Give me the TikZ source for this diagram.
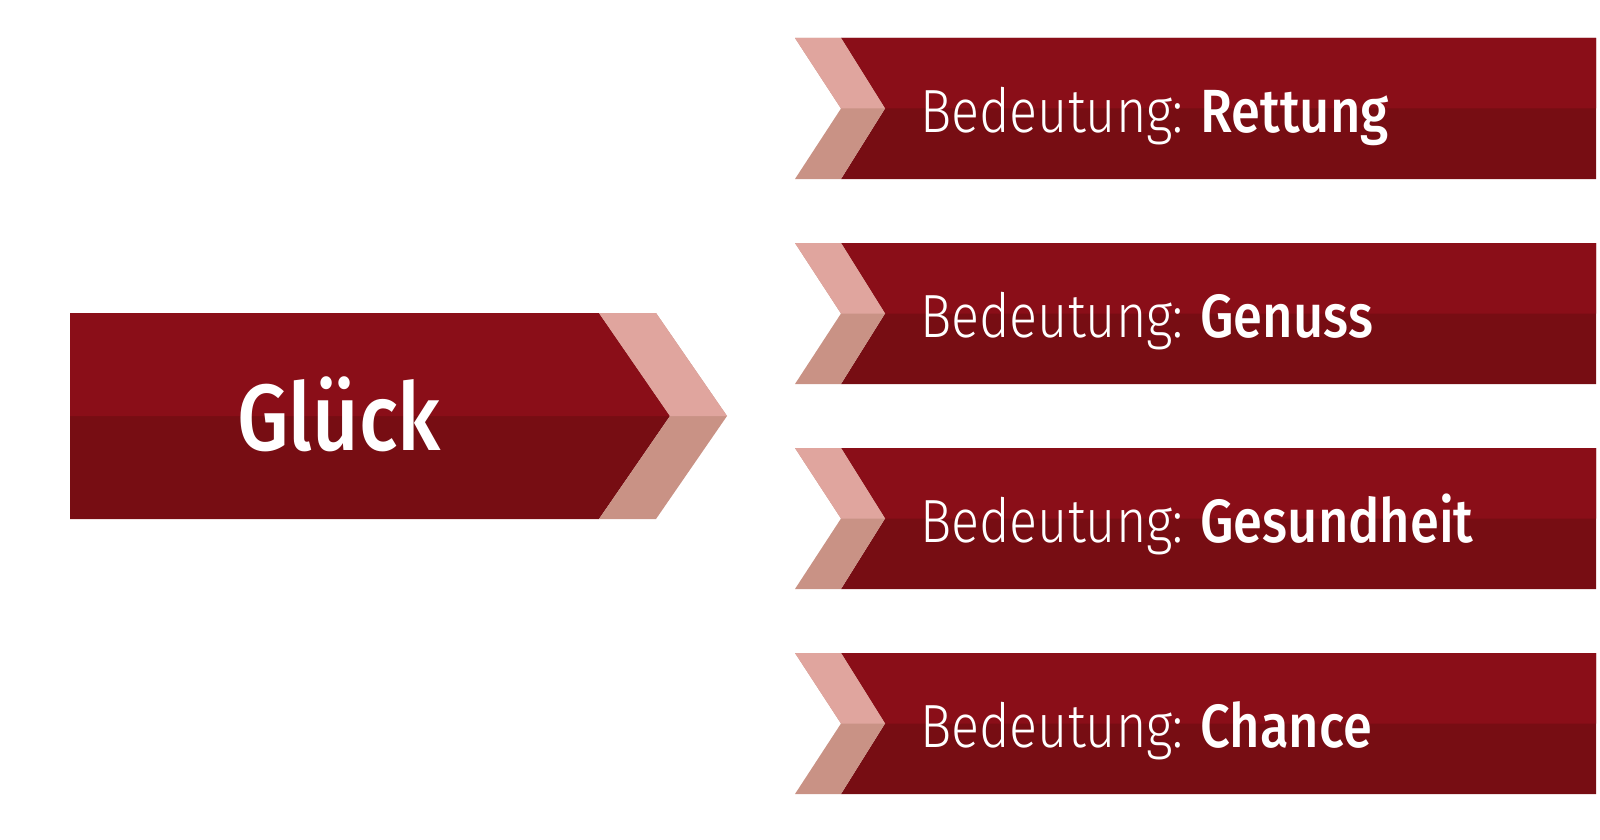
\documentclass[tikz,border=0pt]{standalone}
\usepackage{fontspec}
\newfontfamily\lightf[FakeStretch=0.855]{Fira Sans Light}
\newfontfamily\boldf[FakeStretch=0.86]{Fira Sans Medium}
\definecolor{redU}{HTML}{8A0E18}
\definecolor{redL}{HTML}{770D13}
\definecolor{pinkU}{HTML}{E0A59E}
\definecolor{pinkL}{HTML}{C99285}
\tikzset{
  bantext/.style={anchor=base west, inner sep=0pt, text=white, font=\fontsize{61}{61}\selectfont},
  maintext/.style={anchor=base, inner sep=0pt, text=white, font=\boldf\fontsize{94}{94}\selectfont}
}
\begin{document}
\begin{tikzpicture}[x=1pt,y=-1pt]
\useasboundingbox (0,0) rectangle (1600,840);
% big arrow: lower colour for whole shape, upper half on top
\fill[redL] (70,313) -- (599,313) -- (670,416) -- (599,519) -- (70,519) -- cycle;
\fill[redU] (70,313) -- (599,313) -- (670,416) -- (70,416) -- cycle;
\fill[pinkL] (599,313) -- (656,313) -- (727,416) -- (656,519) -- (599,519) -- (670,416) -- cycle;
\fill[pinkU] (599,313) -- (656,313) -- (727,416) -- (670,416) -- cycle;
\node[maintext] (gl) at (339,450) {Glück};
% banners
\foreach \t/\w [count=\i] in {38/Rettung,243/Genuss,448/Gesundheit,653/Chance}{
  \pgfmathsetmacro{\m}{\t+70.5}
  \pgfmathsetmacro{\bb}{\t+141}
  \fill[redL] (841,\t) -- (1596,\t) -- (1596,\bb) -- (841,\bb) -- (885,\m) -- cycle;
  \fill[redU] (841,\t) -- (1596,\t) -- (1596,\m) -- (885,\m) -- cycle;
  \fill[pinkL] (795,\t) -- (841,\t) -- (885,\m) -- (841,\bb) -- (795,\bb) -- (841,\m) -- cycle;
  \fill[pinkU] (795,\t) -- (841,\t) -- (885,\m) -- (841,\m) -- cycle;
  \node[bantext] (b\i) at (920,{\t+94}) {{\lightf Bedeutung:}\hspace{17pt}{\boldf \w}};
}
\end{tikzpicture}
\end{document}
